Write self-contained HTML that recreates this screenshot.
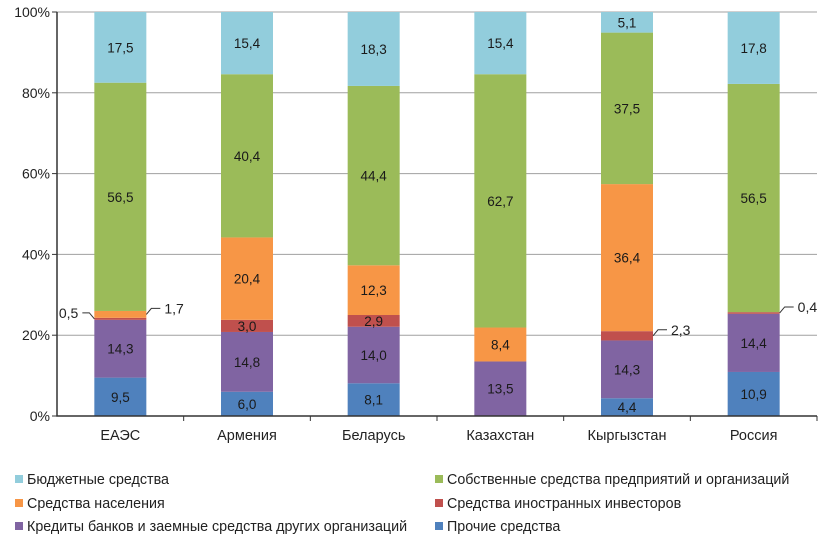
<!DOCTYPE html>
<html><head><meta charset="utf-8"><style>
body{margin:0;background:#fff;font-family:"Liberation Sans",sans-serif;}
svg text{font-family:"Liberation Sans",sans-serif;}
</style></head><body>
<svg width="833" height="546">
<g id="grid"></g><g id="bars"></g><g id="labels"></g><g id="axes"></g><g id="legend"></g>
</svg>
<script>
const categories=["ЕАЭС","Армения","Беларусь","Казахстан","Кыргызстан","Россия"];
const other=[9.5,6.0,8.1,0,4.4,10.9];
const credits=[14.3,14.8,14.0,13.5,14.3,14.4];
const foreign=[0.5,3.0,2.9,0,2.3,0.4];
const population=[1.7,20.4,12.3,8.4,36.4,0];
const own=[56.5,40.4,44.4,62.7,37.5,56.5];
const budget=[17.5,15.4,18.3,15.4,5.1,17.8];
const yTicks=[0,20,40,60,80,100];
const series=[
 {name:"Прочие средства",vals:other,color:"#4F81BD",key:"other"},
 {name:"Кредиты банков и заемные средства других организаций",vals:credits,color:"#8064A2",key:"credits"},
 {name:"Средства иностранных инвесторов",vals:foreign,color:"#C0504D",key:"foreign"},
 {name:"Средства населения",vals:population,color:"#F79646",key:"population"},
 {name:"Собственные средства предприятий и организаций",vals:own,color:"#9BBB59",key:"own"},
 {name:"Бюджетные средства",vals:budget,color:"#92CDDC",key:"budget"}
];
const NS="http://www.w3.org/2000/svg";
const X0=57,X1=817,Y0=416,Y1=12;
const bw=(X1-X0)/categories.length;
const y=v=>Y0-(Y0-Y1)*v/100;
const xc=i=>X0+(i+0.5)*bw;
function mk(tag,attrs,parent,txt){const e=document.createElementNS(NS,tag);for(const k in attrs)e.setAttribute(k,attrs[k]);if(txt!==undefined)e.textContent=txt;document.getElementById(parent).appendChild(e);return e;}
yTicks.forEach(t=>{
 if(t>0){const g=mk("line",{x1:X0,x2:X1,y1:y(t),y2:y(t),stroke:"#a0a0a0","stroke-width":1},"grid");
 
 }
 const l=mk("text",{x:X0-7,y:y(t)+5,"text-anchor":"end","font-size":14,fill:"#222"},"axes",t+"%");
 
 
});
categories.forEach((c,i)=>{
 let acc=0;
 series.forEach(s=>{
  const v=s.vals[i];
  if(v>0){
   const r=mk("rect",{x:xc(i)-26,y:y(acc+v),width:52,height:y(acc)-y(acc+v),fill:s.color},"bars");
   
   
   if(v>=2.5){
    const t=mk("text",{x:xc(i),y:(y(acc)+y(acc+v))/2+5,"text-anchor":"middle","font-size":13.5,fill:"#1a1a1a"},"labels",v.toFixed(1).replace(".",","));
    
    
   }
  }
  acc+=v;
 });
 const cl=mk("text",{x:xc(i),y:440,"text-anchor":"middle","font-size":14.5,fill:"#222"},"axes",c);
 
 
 const tk=mk("line",{x1:X0+(i+1)*bw,x2:X0+(i+1)*bw,y1:Y0,y2:Y0+5,stroke:"#333"},"axes");
 
 
});
function callout(i,val,base,side){
 const yy=y(base+val/2);
 const xe=side<0?xc(i)-26:xc(i)+26;
 const xt=side<0?xe-12:xe+14;
 const p=mk("path",{d:`M${xe},${yy} L${xe+side*5},${yy-6} L${xt},${yy-6}`,stroke:"#333",fill:"none"},"labels");
 
 
 const t=mk("text",{x:xt+side*4,y:yy-1,"text-anchor":side<0?"end":"start","font-size":14,fill:"#222"},"labels",val.toFixed(1).replace(".",","));
 
 
}
callout(0,foreign[0],other[0]+credits[0],-1);
callout(0,population[0],other[0]+credits[0]+foreign[0],1);
callout(4,foreign[4],other[4]+credits[4],1);
callout(5,foreign[5],other[5]+credits[5],1);
const ax=mk("path",{d:`M${X0},${Y1} L${X0},${Y0} L${X1},${Y0}`,stroke:"#333","stroke-width":1.5,fill:"none"},"axes");


yTicks.forEach(t=>{const k=mk("line",{x1:X0-5,x2:X0,y1:y(t),y2:y(t),stroke:"#333"},"axes");
 
 });
const legendOrder=[[5,15,484],[4,435,484],[3,15,508],[2,435,508],[1,15,531],[0,435,531]];
legendOrder.forEach(([si,lx,ly])=>{
 const s=series[si];
 const r=mk("rect",{x:lx,y:ly-9,width:8,height:8,fill:s.color},"legend");
 
 
 const t=mk("text",{x:lx+12,y:ly,"font-size":14.3,fill:"#222"},"legend",s.name);
 
 
});
</script>
</body></html>
